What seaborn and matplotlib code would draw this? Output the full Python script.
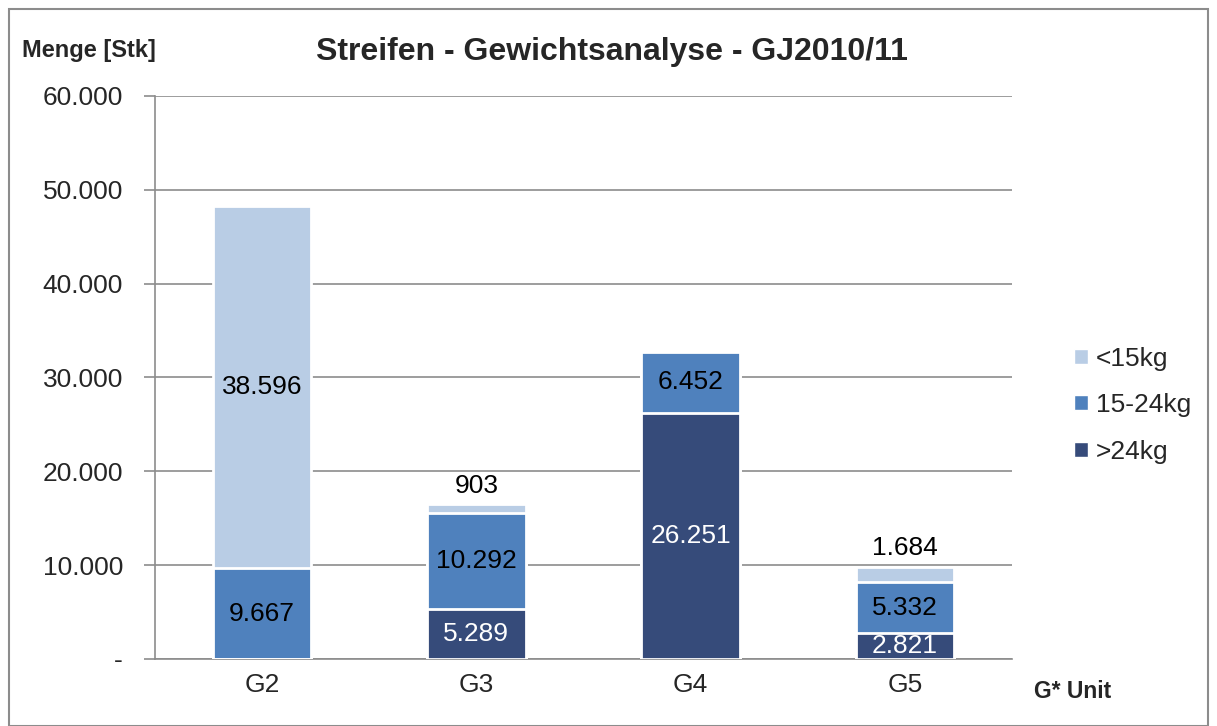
import numpy as np
import pandas as pd
import seaborn as sns
import matplotlib.pyplot as plt
from matplotlib.patches import Rectangle, Patch

# data
units = ['G2', 'G3', 'G4', 'G5']
over24 = [0, 5289, 26251, 2821]
mid = [9667, 10292, 6452, 5332]
under15 = [38596, 903, 0, 1684]

layers = ['>24kg', '15-24kg', '<15kg']
colors = {'>24kg': '#364B7A', '15-24kg': '#4F81BD', '<15kg': '#B9CDE5'}

df = pd.DataFrame({'unit': units, '>24kg': over24, '15-24kg': mid, '<15kg': under15})
df['c1'] = df['>24kg']
df['c2'] = df['c1'] + df['15-24kg']
df['c3'] = df['c2'] + df['<15kg']

sns.set_style('white')
plt.rcParams['font.family'] = ['Liberation Sans', 'DejaVu Sans']

fig = plt.figure(figsize=(12.17, 7.26), dpi=100)
ax = fig.add_axes([0.1274, 0.0923, 0.7042, 0.7755])

# stacked bars: draw cumulative totals from the top down
for col, lay in zip(['c3', 'c2', 'c1'], ['<15kg', '15-24kg', '>24kg']):
    sns.barplot(data=df, x='unit', y=col, color=colors[lay], width=0.46,
                edgecolor='white', linewidth=2, saturation=1, ax=ax, zorder=3)

# value labels
fs = 19
for i in range(len(units)):
    base = 0
    for lay in layers:
        v = df[lay][i]
        if v == 0:
            continue
        txt = '{:,}'.format(v).replace(',', '.')
        col = 'white' if lay == '>24kg' else 'black'
        if v < 2000:
            ax.text(i, base + v + 700, txt, ha='center', va='bottom', fontsize=fs, color='black', zorder=5)
        else:
            ax.text(i, base + v / 2, txt, ha='center', va='center', fontsize=fs, color=col, zorder=5)
        base += v

ax.set_ylim(0, 60000)
ax.set_xlim(-0.5, 3.5)
ax.set_yticks(np.arange(0, 60001, 10000))
ax.set_yticklabels(['-'] + ['{:,}'.format(t).replace(',', '.') for t in range(10000, 60001, 10000)])
ax.yaxis.grid(True, color='#8c8c8c', linewidth=1.2, zorder=0)
ax.set_axisbelow(True)
ax.tick_params(axis='y', labelsize=fs, length=8, width=1.2, color='#8c8c8c', direction='out', left=True, pad=15)
ax.tick_params(axis='x', labelsize=fs, length=0, pad=10)
ax.set_xticks(range(4))
ax.set_xticklabels(units)
ax.set_xticks([-0.5, 0.5, 1.5, 2.5, 3.5], minor=True)
ax.tick_params(axis='x', which='minor', length=7, width=1.2, color='#8c8c8c', direction='out')
ax.set_xlabel('')
ax.set_ylabel('')
for s in ['top', 'right']:
    ax.spines[s].set_visible(False)
for s in ['left', 'bottom']:
    ax.spines[s].set_color('#8c8c8c')
    ax.spines[s].set_linewidth(1.2)

fig.text(0.503, 0.928, 'Streifen - Gewichtsanalyse - GJ2010/11', ha='center', va='center',
         fontsize=23, fontweight='bold')
fig.text(0.018, 0.930, 'Menge [Stk]', ha='left', va='center', fontsize=17, fontweight='bold')
fig.text(0.850, 0.048, 'G* Unit', ha='left', va='center', fontsize=16.5, fontweight='bold')

handles = [Patch(facecolor=colors[l], edgecolor='white') for l in ['<15kg', '15-24kg', '>24kg']]
fig.legend(handles, ['<15kg', '15-24kg', '>24kg'], loc='center left', bbox_to_anchor=(0.872, 0.442),
           frameon=False, fontsize=fs, handlelength=0.5, handleheight=0.5, handletextpad=0.3,
           labelspacing=0.85, borderpad=0)

fig.patches.append(Rectangle((0.007, 0.0), 0.986, 0.988, transform=fig.transFigure, fill=False,
                             edgecolor='#8c8c8c', linewidth=1.5))

fig.savefig('out.png', dpi=100)
